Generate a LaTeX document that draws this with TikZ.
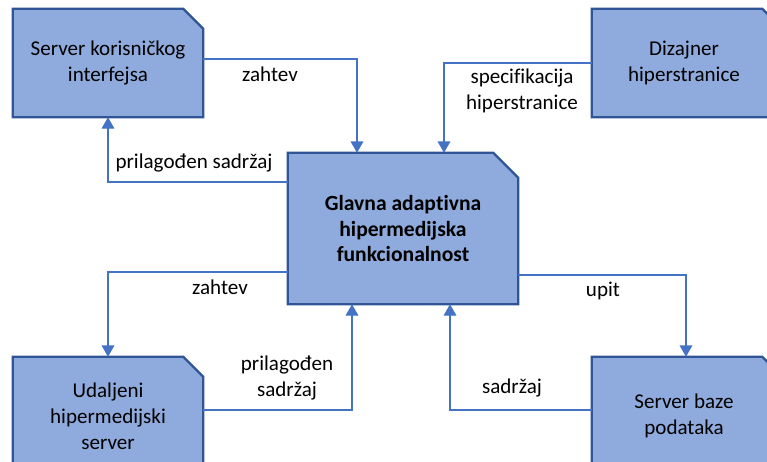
\documentclass[tikz,border=0pt]{standalone}
\usepackage{fontspec}
\setmainfont{Carlito}[Ligatures=NoCommon]
\usetikzlibrary{arrows.meta,calc}
\pgfdeclarelayer{background}
\pgfsetlayers{background,main}
\definecolor{boxfill}{HTML}{8FAADC}
\definecolor{boxline}{HTML}{2F5597}
\definecolor{flowline}{HTML}{4472C4}
\tikzset{
  card/.style={rectangle, inner sep=0pt, align=center,
    minimum width=142.5pt, minimum height=81pt,
    font=\fontsize{15.8}{19.5}\selectfont},
  rightcard/.style={card, minimum width=138pt},
  corecard/.style={card, minimum width=172.5pt, minimum height=113.25pt,
    font=\fontsize{16.2}{19}\selectfont\bfseries},
  outline/.style={draw=boxline, fill=boxfill, line width=1.8pt, line join=miter},
  flow/.style={draw=flowline, line width=0.9pt,
    -{Triangle[width=9.5pt,length=8.5pt]}},
  lbl/.style={align=center, inner sep=0pt,
    font=\fontsize{15.8}{19.5}\selectfont}
}
% box outline with the north-east corner cut off
\newcommand\chamferbox[2]{%
  \begin{pgfonlayer}{background}
    \path[outline] (#1.south west) -- (#1.north west)
      -- ($(#1.north east)+(-#2,0)$) -- ($(#1.north east)+(0,#2)$)
      -- (#1.south east) -- cycle;
  \end{pgfonlayer}}
\begin{document}
\begin{tikzpicture}[x=0.75pt, y=-0.75pt]
  \useasboundingbox (0,0) rectangle (767,461);

  % components
  \node[card] (ui) at (108,63) {Server korisničkog\\interfejsa};
  \node[rightcard] (des) at (684,63) {Dizajner\\hiperstranice};
  \node[corecard] (core) at (403,228.5) {Glavna adaptivna\\hipermedijska\\funkcionalnost};
  \node[card, minimum height=88.5pt] (rem) at (108,416) {Udaljeni\\hipermedijski\\server};
  \node[rightcard, minimum height=88.5pt] (db) at (684,416) {Server baze\\podataka};

  \chamferbox{ui}{20}
  \chamferbox{des}{14}
  \chamferbox{core}{25}
  \chamferbox{rem}{20}
  \chamferbox{db}{14}

  % information flows
  \draw[flow] ($(ui.east)+(0,-4)$) -| ($(core.north)+(-46,0)$);
  \draw[flow] (des.west) -| ($(core.north)+(41,0)$);
  \draw[flow] ($(core.west)+(0,-46.5)$) -| (ui.south);
  \draw[flow] ($(core.west)+(0,43.5)$) -| (rem.north);
  \draw[flow] ($(rem.east)+(0,-6)$) -| ($(core.south)+(-51,0)$);
  \draw[flow] ($(db.west)+(0,-6)$) -| ($(core.south)+(47,0)$);
  \draw[flow] ($(core.east)+(0,46.5)$) -| ($(db.north)+(2,0)$);

  % flow labels
  \node[lbl] (l1) at (270,74) {zahtev};
  \node[lbl] (l2) at (522,90.5) {specifikacija\\hiperstranice};
  \node[lbl] (l3) at (194,163) {prilagođen sadržaj};
  \node[lbl] (l4) at (220,287) {zahtev};
  \node[lbl] (l5) at (287,378) {prilagođen\\sadržaj};
  \node[lbl] (l6) at (603,291) {upit};
  \node[lbl] (l7) at (512,388) {sadržaj};
\end{tikzpicture}
\end{document}
